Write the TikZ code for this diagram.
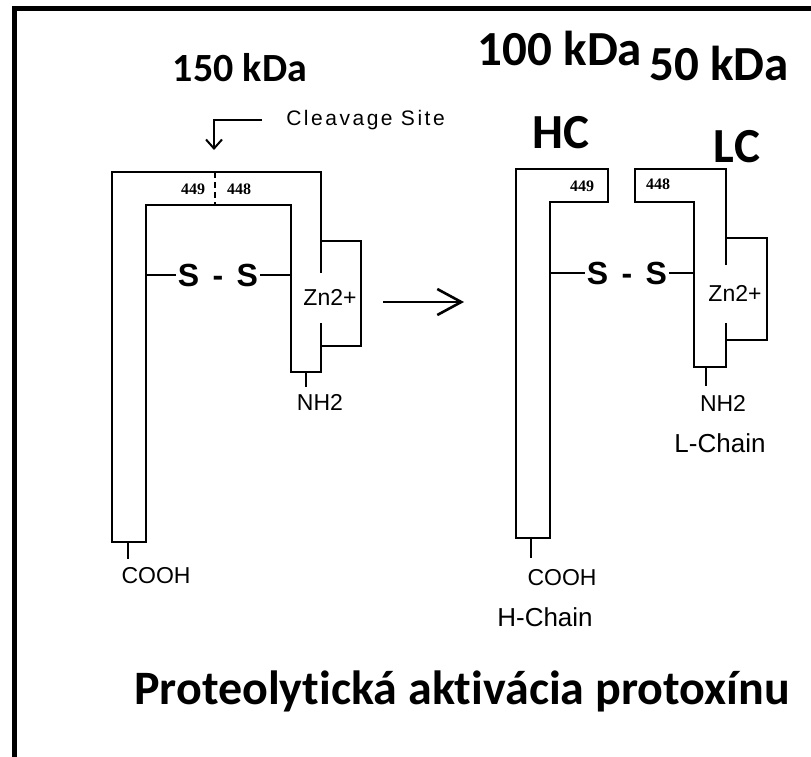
\documentclass[tikz,border=0pt]{standalone}
\usepackage{fontspec}
\setmainfont{Liberation Sans}
\newfontfamily\titlefont[Ligatures=NoCommon]{Carlito}
\newfontfamily\numfont{Liberation Serif}
\usetikzlibrary{arrows.meta}
\begin{document}
\begin{tikzpicture}[x=1pt,y=-1pt,line width=2.6pt,line join=miter,
  ttl/.style={font=\titlefont\bfseries\fontsize{49}{51}\selectfont,inner sep=0pt},
  lbl/.style={font=\fontsize{23}{25}\selectfont,inner sep=0pt},
  chn/.style={font=\fontsize{26}{28}\selectfont,inner sep=0pt},
  num/.style={font=\numfont\bfseries\fontsize{16}{17}\selectfont,inner sep=0pt},
  ss/.style={font=\bfseries\fontsize{32}{34}\selectfont,inner sep=1pt}]
\useasboundingbox (0,0) rectangle (811,756);
\clip (0,0) rectangle (811,756);
\fill[white] (0,0) rectangle (811,756);
% frame
\draw[line width=5pt] (14,770) -- (14,8) -- (830,8);
% titles
\node[ttl,font=\titlefont\bfseries\fontsize{40}{42}\selectfont] (t150) at (240,68) {150 kDa};
\node[ttl] (t100) at (560,48) {100 kDa};
\node[ttl] (thc) at (561,133) {HC};
\node[ttl] (t50) at (719,63) {50 kDa};
\node[ttl] (tlc) at (737,147) {LC};
\node[ttl,font=\titlefont\bfseries\fontsize{48}{50}\selectfont] (tbot) at (462,691) {Proteolytická aktivácia protoxínu};
% cleavage site
\node[lbl,font=\addfontfeature{LetterSpace=12}\fontsize{21}{23}\selectfont,anchor=west] (cs) at (285,120) {Cleavage Site};
\coordinate (cs1) at (262,120);
\coordinate (cs2) at (214,120);
\coordinate (cs3) at (214,150);
\draw[line width=2pt,-{Straight Barb[length=9pt,width=16pt,line width=2pt]}] (cs1) -- (cs2) -- (cs3);
% ---------- 150 kDa molecule ----------
\draw (321,273) -- (321,172) -- (112,172) -- (112,542) -- (146,542) -- (146,205) -- (291,205) -- (291,372) -- (321,372) -- (321,323);
\draw (321,241) -- (361,241) -- (361,346) -- (321,346);
\draw[line width=1.6pt,dash pattern=on 6pt off 4pt] (215,172) -- (215,205);
\node[num] (n449a) at (193,189) {449};
\node[num] (n448a) at (239,189) {448};
\node[ss] (ss1) at (218,275) {S\hspace{0.42em}-\hspace{0.42em}S};
\draw (146,275) -- (ss1.west);
\draw (ss1.east) -- (291,275);
\node[lbl] (zn1) at (330,297) {Zn2+};
\node[lbl] (nh1) at (320,402) {NH2};
\draw (306,372) -- (306,387);
\node[lbl] (co1) at (156,576) {COOH};
\draw (128,542) -- (128,559);
% arrow
\coordinate (a1) at (383,302);
\coordinate (a2) at (464,302);
\draw[-{Straight Barb[length=24pt,width=26pt,line width=2.6pt]}] (a1) -- (a2);
% ---------- HC ----------
\draw (550,538) -- (550,202) -- (608,202) -- (608,169) -- (516,169) -- (516,538) -- cycle;
\node[num] (n449b) at (582,186) {449};
\draw (531,538) -- (531,558);
\node[lbl] (co2) at (562,578) {COOH};
\node[chn] (hch) at (545,617) {H-Chain};
\node[ss] (ss2) at (627,273) {S\hspace{0.42em}-\hspace{0.42em}S};
\draw (550,273) -- (ss2.west);
\draw (ss2.east) -- (694,273);
% ---------- LC ----------
\draw (726,265) -- (726,169) -- (635,169) -- (635,202) -- (694,202) -- (694,367) -- (726,367) -- (726,323);
\draw (726,238) -- (767,238) -- (767,340) -- (726,340);
\node[num] (n448b) at (658,184) {448};
\node[lbl] (zn2) at (735,293) {Zn2+};
\draw (706,367) -- (706,386);
\node[lbl] (nh2) at (723,403) {NH2};
\node[chn] (lch) at (720,443) {L-Chain};
\end{tikzpicture}
\end{document}
